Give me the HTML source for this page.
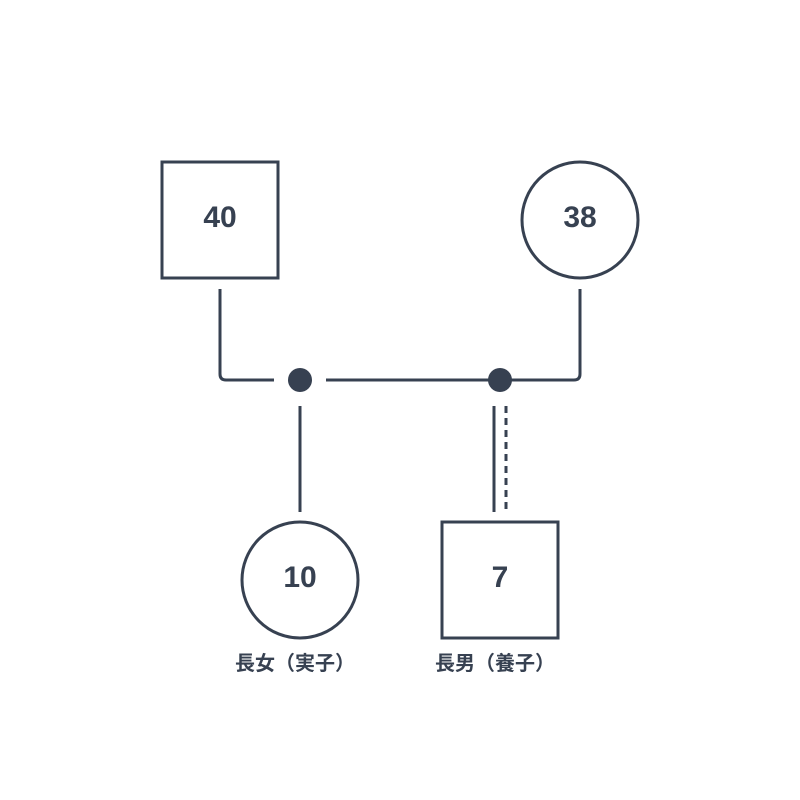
<!DOCTYPE html>
<html><head><meta charset="utf-8"><style>body{margin:0;background:#fff}</style></head><body>
<svg width="800" height="800" xmlns="http://www.w3.org/2000/svg" style="display:block">
<rect width="800" height="800" fill="#fff"/>
<g stroke="#374151" stroke-width="3" fill="none">
<rect x="162" y="162" width="116" height="116"/>
<circle cx="580" cy="220" r="58"/>
<circle cx="300" cy="580" r="58"/>
<rect x="442" y="522" width="116" height="116"/>
<path d="M220 289 V374 Q220 380 226 380 H274"/>
<path d="M326 380 H574 Q580 380 580 374 V289"/>
<line x1="300" y1="406" x2="300" y2="512"/>
<line x1="494" y1="406" x2="494" y2="512"/>
<line x1="506" y1="406" x2="506" y2="512" stroke-dasharray="7 5"/>
</g>
<g fill="#374151">
<circle cx="300" cy="380" r="12"/>
<circle cx="500" cy="380" r="12"/>
</g>
<g font-family="Liberation Sans, sans-serif" font-weight="bold" font-size="30" fill="#374151" text-anchor="middle">
<text x="220" y="227">40</text>
<text x="580" y="227">38</text>
<text x="300" y="587">10</text>
<text x="500" y="587">7</text>
</g>
<g font-family="Liberation Sans, 'Noto Sans CJK JP', sans-serif" font-weight="bold" font-size="20" fill="#374151" text-anchor="middle">
<text x="295" y="670">長女（実子）</text>
<text x="495" y="670">長男（養子）</text>
</g>
</svg>
</body></html>
